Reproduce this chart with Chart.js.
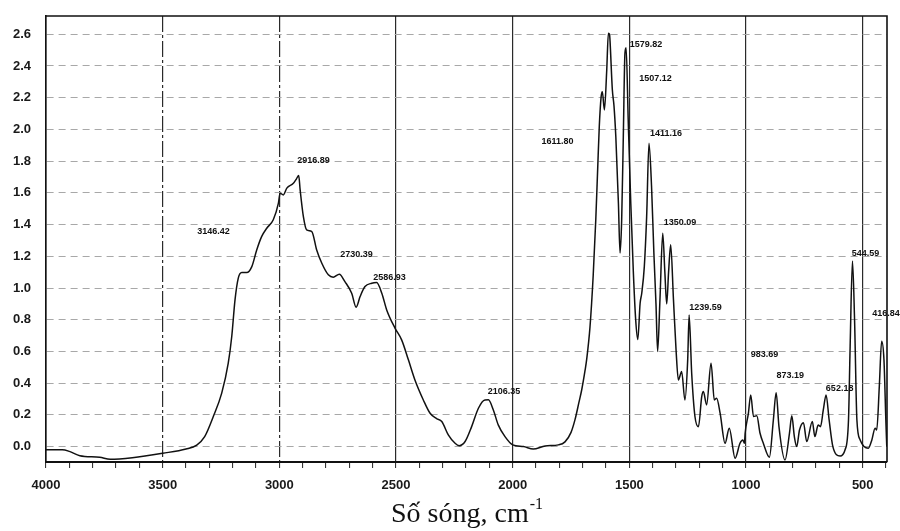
<!DOCTYPE html>
<html>
<head>
<meta charset="utf-8">
<script src="https://cdn.jsdelivr.net/npm/chart.js@4.4.0/dist/chart.umd.min.js"></script>
<style>
  body { margin: 0; background: #fff; }
  #wrap { width: 900px; height: 531px; }
</style>
</head>
<body>
<div id="wrap"><canvas id="irChart" width="900" height="531"></canvas></div>
<script>
// IR spectrum
const wavenumbers = [
    4000, 3930, 3900, 3855, 3770, 3725, 3630, 3500, 3400, 3354,
    3320, 3283, 3247, 3219, 3204, 3190, 3176, 3161, 3140, 3118,
    3097, 3076, 3054, 3026, 3004, 2997, 2983, 2968, 2940, 2926,
    2917, 2911, 2897, 2883, 2861, 2840, 2818, 2790, 2769, 2743,
    2719, 2690, 2671, 2654, 2633, 2604, 2583, 2561, 2540, 2504,
    2476, 2447, 2419, 2383, 2354, 2326, 2304, 2276, 2247, 2229,
    2204, 2176, 2147, 2119, 2104, 2083, 2062, 2033, 2000, 1954,
    1912, 1861, 1804, 1776, 1750, 1733, 1716, 1704, 1690, 1683,
    1669, 1655, 1644, 1636, 1629, 1621, 1616, 1607, 1597, 1590,
    1585, 1583, 1573, 1566, 1558, 1547, 1540, 1533, 1526, 1519,
    1514, 1505, 1494, 1483, 1473, 1464, 1454, 1447, 1436, 1426,
    1416, 1405, 1395, 1386, 1379, 1369, 1357, 1348, 1340, 1332,
    1323, 1311, 1300, 1290, 1276, 1262, 1250, 1244, 1233, 1219,
    1204, 1190, 1183, 1169, 1150, 1136, 1126, 1111, 1090, 1072,
    1047, 1026, 1014, 1007, 1004, 990, 980, 968, 954, 940,
    926, 900, 883, 871, 859, 833, 814, 804, 793, 783,
    771, 754, 740, 716, 705, 691, 681, 669, 657, 644,
    628, 597, 576, 561, 554, 544, 535, 525, 511, 476,
    461, 447, 440, 429, 419, 409, 401, 397
];
const absorbance = [
    -0.02, -0.02, -0.03, -0.057, -0.067, -0.08, -0.07, -0.042, -0.015, 0.01,
    0.063, 0.19, 0.337, 0.526, 0.694, 0.925, 1.062, 1.097, 1.097, 1.135,
    1.24, 1.324, 1.377, 1.43, 1.535, 1.598, 1.587, 1.63, 1.66, 1.69,
    1.71, 1.62, 1.45, 1.366, 1.356, 1.24, 1.156, 1.083, 1.068, 1.087,
    1.04, 0.967, 0.879, 0.946, 1.009, 1.03, 1.034, 0.967, 0.862, 0.746,
    0.673, 0.547, 0.42, 0.294, 0.21, 0.176, 0.158, 0.074, 0.021, 0.006,
    0.032, 0.126, 0.242, 0.294, 0.295, 0.231, 0.137, 0.063, 0.011, 0.0,
    -0.015, 0.004, 0.011, 0.03, 0.09, 0.17, 0.28, 0.36, 0.48, 0.55,
    0.75, 1.08, 1.43, 1.745, 2.018, 2.207, 2.238, 2.123, 2.375, 2.607,
    2.6, 2.56, 2.25, 2.15, 1.95, 1.535, 1.22, 1.43, 1.955, 2.48,
    2.515, 2.06, 1.535, 1.1, 0.8, 0.675, 0.904, 0.967, 1.135, 1.45,
    1.913, 1.64, 1.22, 0.9, 0.6, 0.925, 1.346, 1.1, 0.9, 1.1,
    1.272, 0.925, 0.61, 0.42, 0.473, 0.294, 0.55, 0.83, 0.463, 0.19,
    0.126, 0.315, 0.347, 0.263, 0.526, 0.294, 0.305, 0.21, 0.021, 0.116,
    -0.073, 0.021, 0.042, 0.021, 0.084, 0.21, 0.326, 0.19, 0.195, 0.084,
    0.021, -0.067, 0.168, 0.34, 0.126, -0.084, 0.084, 0.194, 0.063, 0.0,
    0.105, 0.151, 0.032, 0.158, 0.063, 0.137, 0.126, 0.231, 0.326, 0.168,
    0.0, -0.059, -0.021, 0.168, 0.63, 1.17, 0.8, 0.168, 0.042, -0.01,
    0.042, 0.116, 0.105, 0.378, 0.665, 0.547, 0.168, 0.0
];

// peak labels and where they sit (in axis units)
const peakLabels = ['3146.42', '2916.89', '2730.39', '2586.93', '2106.35', '1611.80', '1579.82', '1507.12',
    '1411.16', '1350.09', '1239.59', '983.69', '873.19', '652.18', '544.59', '416.84'];
const peakLabelX = [3282, 2854, 2669, 2528, 2037, 1808, 1429, 1388, 1343, 1283, 1174, 921, 811, 599, 488, 400];
const peakLabelY = [1.354, 1.801, 1.209, 1.064, 0.347, 1.923, 2.533, 2.318, 1.972, 1.412, 0.879, 0.578, 0.446, 0.368, 1.215, 0.837];

const xMin = 396;
const xMax = 4000;
const yMin = -0.097;
const yMax = 2.715;
const xMinorTicks = [];
for (let v = 400; v <= 4000; v += 100) xMinorTicks.push(v);
const yTicks = [0, 0.2, 0.4, 0.6, 0.8, 1.0, 1.2, 1.4, 1.6, 1.8, 2.0, 2.2, 2.4, 2.6];

const points = wavenumbers.map((w, i) => ({ x: w, y: absorbance[i] }));

const frameAndText = {
    id: 'frameAndText',
    afterDraw: (chart) => {
        const ctx = chart.ctx;
        const area = chart.chartArea;
        const xs = chart.scales.x;
        const ys = chart.scales.y;
        ctx.save();
        // top and right border
        ctx.strokeStyle = '#111';
        ctx.lineWidth = 1.6;
        ctx.beginPath();
        ctx.moveTo(area.left, area.top);
        ctx.lineTo(area.right, area.top);
        ctx.lineTo(area.right, area.bottom);
        ctx.stroke();

        // peak labels
        ctx.fillStyle = '#111';
        ctx.font = 'bold 9px "Liberation Sans", Arial, sans-serif';
        ctx.textAlign = 'center';
        ctx.textBaseline = 'middle';
        for (let i = 0; i < peakLabels.length; i++) {
            ctx.fillText(peakLabels[i], xs.getPixelForValue(peakLabelX[i]), ys.getPixelForValue(peakLabelY[i]));
        }

        // axis title with superscript
        const main = 'Số sóng, cm';
        const sup = '-1';
        ctx.textAlign = 'left';
        ctx.textBaseline = 'alphabetic';
        ctx.font = '28px "Liberation Serif", "Times New Roman", serif';
        const wMain = ctx.measureText(main).width;
        ctx.font = '16px "Liberation Serif", "Times New Roman", serif';
        const wSup = ctx.measureText(sup).width;
        const x0 = (area.left + area.right) / 2 - (wMain + wSup) / 2;
        const base = chart.height - 9;
        ctx.font = '28px "Liberation Serif", "Times New Roman", serif';
        ctx.fillText(main, x0, base);
        ctx.font = '16px "Liberation Serif", "Times New Roman", serif';
        ctx.fillText(sup, x0 + wMain + 1, base - 13);
        ctx.restore();
    }
};

const ctx = document.getElementById('irChart').getContext('2d');
window.grafica = new Chart(ctx, {
    type: 'line',
    data: {
        datasets: [{
            label: 'IR',
            data: points,
            borderColor: '#111',
            borderWidth: 1.5,
            pointRadius: 0,
            fill: false,
            cubicInterpolationMode: 'monotone'
        }]
    },
    options: {
        responsive: false,
        animation: false,
        layout: { padding: { top: 16, right: 13, left: 0, bottom: 0 } },
        plugins: {
            legend: { display: false },
            tooltip: { enabled: false }
        },
        scales: {
            x: {
                type: 'linear',
                reverse: true,
                min: xMin,
                max: xMax,
                afterBuildTicks: (axis) => {
                    axis.ticks = xMinorTicks.map((v) => ({ value: v }));
                },
                afterFit: (axis) => {
                    axis.height = 69;
                    axis.paddingLeft = 0;
                    axis.paddingRight = 0;
                },
                ticks: {
                    autoSkip: false,
                    maxRotation: 0,
                    padding: 10,
                    color: '#1a1a1a',
                    font: { family: '"Liberation Sans", Arial, sans-serif', size: 13, weight: 'bold' },
                    callback: (v) => (v % 500 === 0 ? String(v) : '')
                },
                grid: {
                    color: (c) => (c.tick && c.tick.value % 500 === 0 ? '#2a2a2a' : 'rgba(0,0,0,0)'),
                    lineWidth: 1.2,
                    tickLength: 6,
                    tickColor: '#222',
                    tickWidth: 1
                },
                border: {
                    color: '#111',
                    width: 2,
                    dash: (c) => (c.tick && (c.tick.value === 3500 || c.tick.value === 3000) ? [16, 3, 3, 3] : [])
                }
            },
            y: {
                type: 'linear',
                min: yMin,
                max: yMax,
                afterBuildTicks: (axis) => {
                    axis.ticks = yTicks.map((v) => ({ value: v }));
                },
                afterFit: (axis) => {
                    axis.width = 46;
                    axis.paddingTop = 0;
                    axis.paddingBottom = 0;
                },
                ticks: {
                    padding: 15,
                    color: '#1a1a1a',
                    font: { family: '"Liberation Sans", Arial, sans-serif', size: 13, weight: 'bold' },
                    callback: (v) => v.toFixed(1)
                },
                grid: {
                    color: '#a8a8a8',
                    lineWidth: 1,
                    drawTicks: false
                },
                border: {
                    color: '#111',
                    width: 1.6,
                    dash: [7, 5]
                }
            }
        }
    },
    plugins: [frameAndText]
});
</script>
</body>
</html>
